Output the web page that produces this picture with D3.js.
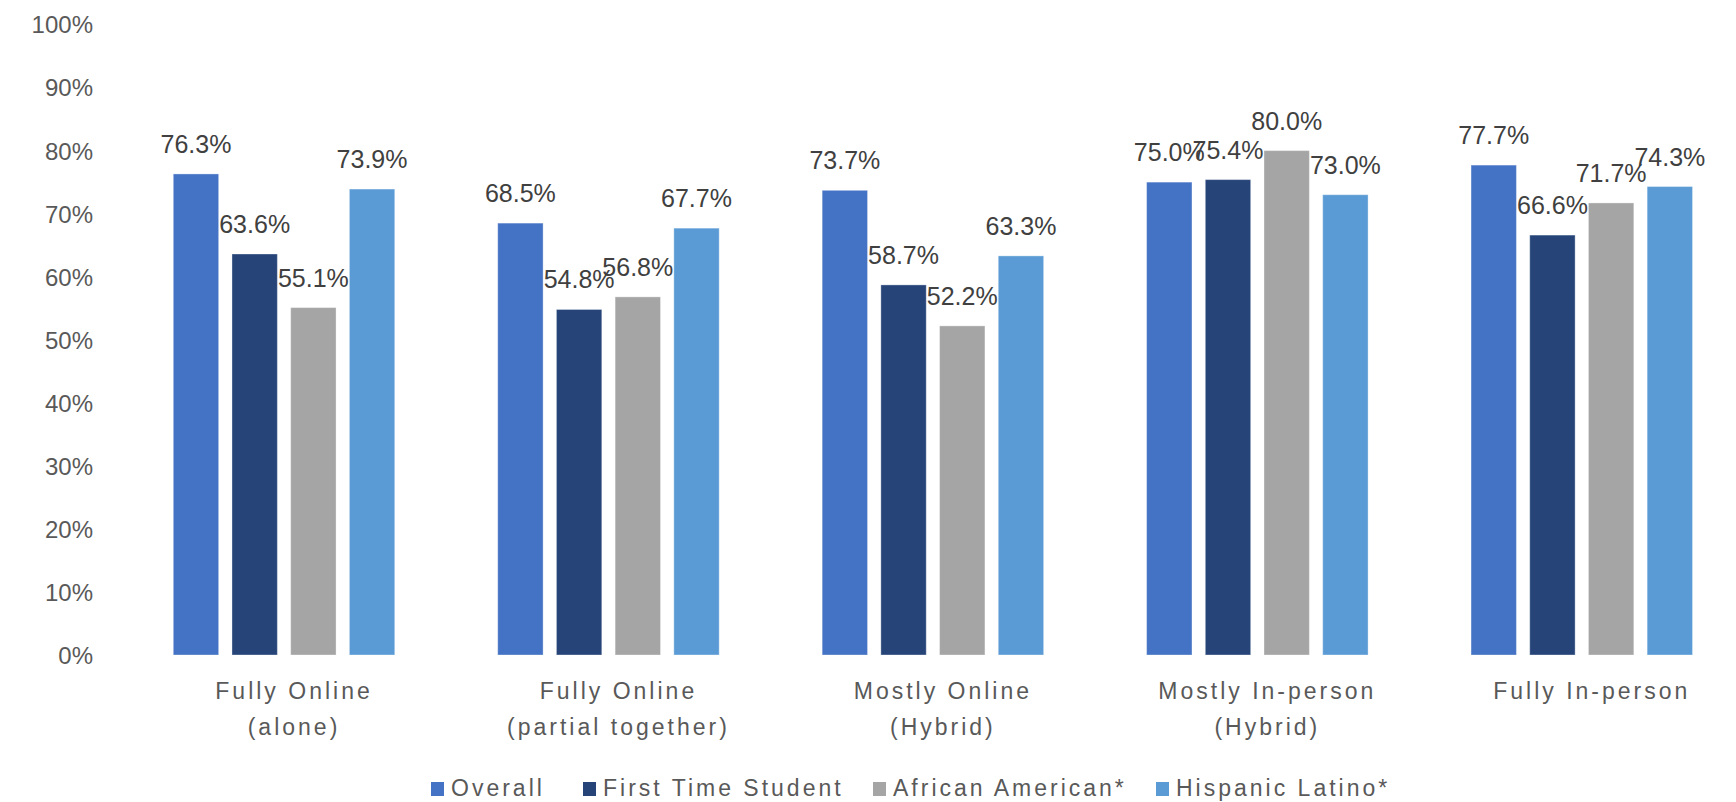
<!DOCTYPE html>
<html>
<head>
<meta charset="utf-8">
<script src="https://cdn.jsdelivr.net/npm/d3@7"></script>
<style>
  html, body { margin: 0; padding: 0; background: #ffffff; }
  svg { display: block; font-family: "Liberation Sans", Arial, sans-serif; }
</style>
</head>
<body>
<svg id="chart" width="1736" height="802"></svg>
<script>
// Delivery modes (two-line category labels)
const categories = [
  "Fully Online (alone)",
  "Fully Online (partial together)",
  "Mostly Online (Hybrid)",
  "Mostly In-person (Hybrid)",
  "Fully In-person"
];
const categoryLines = [
  ["Fully Online", "(alone)"],
  ["Fully Online", "(partial together)"],
  ["Mostly Online", "(Hybrid)"],
  ["Mostly In-person", "(Hybrid)"],
  ["Fully In-person", ""]
];

const seriesNames = ["Overall", "First Time Student", "African American*", "Hispanic Latino*"];
const seriesColors = ["#4472C4", "#264478", "#A5A5A5", "#5B9BD5"];

// Percent values per series, in category order
const overall          = [76.3, 68.5, 73.7, 75.0, 77.7];
const firstTimeStudent = [63.6, 54.8, 58.7, 75.4, 66.6];
const africanAmerican  = [55.1, 56.8, 52.2, 80.0, 71.7];
const hispanicLatino   = [73.9, 67.7, 63.3, 73.0, 74.3];
const seriesValues = [overall, firstTimeStudent, africanAmerican, hispanicLatino];

const yTicks = [0, 10, 20, 30, 40, 50, 60, 70, 80, 90, 100];

const svg = d3.select("#chart");

const y = d3.scaleLinear().domain([0, 100]).range([655, 24.5]);

const x0 = d3.scaleBand()
  .domain(categories)
  .range([121.8, 1744])
  .padding(0);

const x1 = d3.scaleBand()
  .domain(seriesNames)
  .range([-117.4, 117.4])
  .paddingInner(0.227)
  .paddingOuter(0.1135);

const center = c => x0(c) + x0.bandwidth() / 2;

// Y axis labels (no axis line, no gridlines)
const yAxis = d3.axisLeft(y)
  .tickValues(yTicks)
  .tickFormat(d => d + "%")
  .tickSize(0)
  .tickPadding(0);

const yG = svg.append("g")
  .attr("transform", "translate(93,0)")
  .call(yAxis);
yG.select(".domain").remove();
yG.selectAll("text")
  .attr("fill", "#595959")
  .attr("font-size", 24)
  .attr("font-family", "'Liberation Sans', Arial, sans-serif")
  .attr("dy", "0.35em");

// Bars
const rows = [];
categories.forEach((c, i) => {
  seriesNames.forEach((s, j) => {
    rows.push({ cat: c, series: s, value: seriesValues[j][i], color: seriesColors[j] });
  });
});

const bars = svg.append("g");
bars.selectAll("rect")
  .data(rows)
  .join("rect")
  .attr("x", d => center(d.cat) + x1(d.series))
  .attr("y", d => y(d.value))
  .attr("width", x1.bandwidth())
  .attr("height", d => y(0) - y(d.value))
  .attr("fill", d => d.color)
  .attr("stroke", "#ffffff")
  .attr("stroke-opacity", 0.35)
  .attr("stroke-width", 1);

// Value labels above bars
svg.append("g").selectAll("text")
  .data(rows)
  .join("text")
  .attr("x", d => center(d.cat) + x1(d.series) + x1.bandwidth() / 2)
  .attr("y", d => y(d.value) - 21)
  .attr("text-anchor", "middle")
  .attr("fill", "#404040")
  .attr("font-size", 25)
  .text(d => d.value.toFixed(1) + "%");

// Category labels (two lines)
const catG = svg.append("g");
categories.forEach((c, i) => {
  categoryLines[i].forEach((line, k) => {
    if (!line) return;
    catG.append("text")
      .attr("x", center(c) + 10)
      .attr("y", 691 + k * 36)
      .attr("dy", "0.35em")
      .attr("text-anchor", "middle")
      .attr("fill", "#595959")
      .attr("font-size", 23)
      .attr("letter-spacing", 3)
      .text(line);
  });
});

// Legend
const legendX = [431, 583, 873, 1156];
const legend = svg.append("g");
seriesNames.forEach((s, j) => {
  legend.append("rect")
    .attr("x", legendX[j])
    .attr("y", 782)
    .attr("width", 13)
    .attr("height", 14)
    .attr("fill", seriesColors[j]);
  legend.append("text")
    .attr("x", legendX[j] + 20)
    .attr("y", 788)
    .attr("dy", "0.35em")
    .attr("fill", "#595959")
    .attr("font-size", 23)
    .attr("letter-spacing", 3)
    .text(s);
});
</script>
</body>
</html>
